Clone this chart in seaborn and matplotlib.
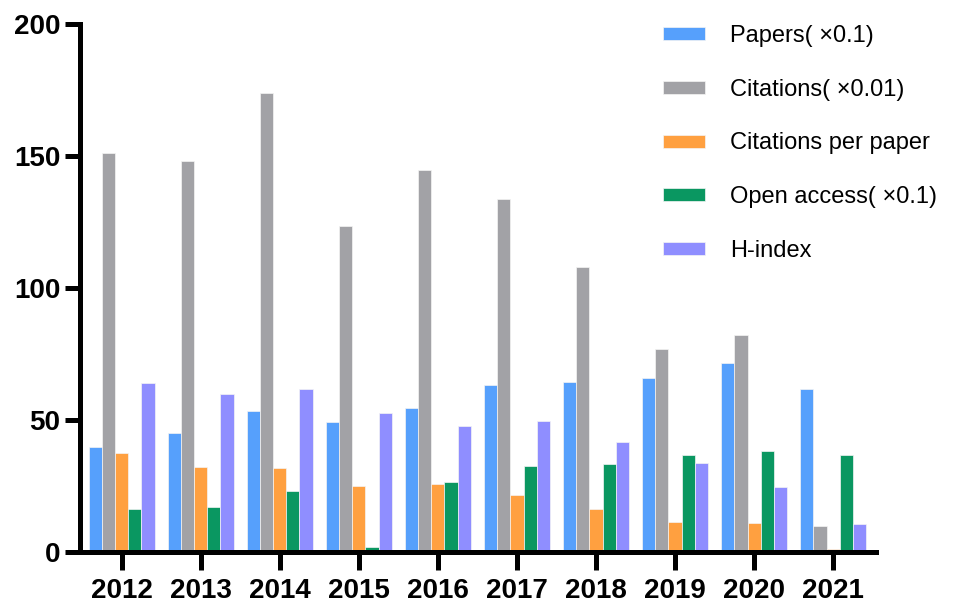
import matplotlib
matplotlib.use("Agg")
import matplotlib.pyplot as plt
import seaborn as sns
import pandas as pd

years = ["2012", "2013", "2014", "2015", "2016", "2017", "2018", "2019", "2020", "2021"]
series = ["Papers( ×0.1)", "Citations( ×0.01)", "Citations per paper",
          "Open access( ×0.1)", "H-index"]
papers = [39.7, 45.0, 53.2, 49.0, 54.5, 63.3, 64.3, 65.8, 71.5, 61.7]
citations = [151.0, 148.0, 173.7, 123.5, 144.8, 133.8, 107.8, 76.7, 82.0, 9.5]
cites_per_paper = [37.4, 32.0, 31.8, 24.8, 25.5, 21.5, 16.0, 11.0, 10.8, 1.0]
open_access = [16.0, 16.7, 23.0, 1.8, 26.5, 32.5, 33.0, 36.6, 38.2, 36.5]
h_index = [63.7, 59.7, 61.7, 52.5, 47.5, 49.5, 41.5, 33.7, 24.6, 10.6]
colors = ["#56A0FC", "#A2A2A6", "#FFA040", "#0A9761", "#8F8EFF"]
yticks = [0, 50, 100, 150, 200]

values = [papers, citations, cites_per_paper, open_access, h_index]
rows = []
for s, vals in zip(series, values):
    for y, v in zip(years, vals):
        rows.append({"Year": y, "Series": s, "Value": v})
df = pd.DataFrame(rows)

sns.set_style("ticks")
plt.rcParams["font.family"] = ["Liberation Sans", "Noto Sans CJK SC", "DejaVu Sans"]
plt.rcParams["text.color"] = "black"
plt.rcParams["xtick.color"] = "black"
plt.rcParams["ytick.color"] = "black"
plt.rcParams["xtick.labelcolor"] = "black"
plt.rcParams["ytick.labelcolor"] = "black"

fig = plt.figure(figsize=(9.67, 6.03), dpi=100)
ax = fig.add_axes([0.0832, 0.0854, 0.8226, 0.875])

sns.barplot(data=df, x="Year", y="Value", hue="Series", order=years,
            hue_order=series, palette=colors, saturation=1, width=0.834, gap=0,
            edgecolor="#F4F4F4", linewidth=0.5, ax=ax, legend=True)

ax.set_ylim(0, 200)
ax.set_xlim(-0.52, 9.54)
ax.set_yticks(yticks)
ax.set_yticklabels([str(t) for t in yticks])
ax.set_xlabel("")
ax.set_ylabel("")
for side in ["top", "right"]:
    ax.spines[side].set_visible(False)
for side in ["left", "bottom"]:
    ax.spines[side].set_linewidth(3.6)
    ax.spines[side].set_color("black")
    ax.spines[side].set_capstyle("projecting")
ax.tick_params(axis="y", length=11, width=3.6, pad=3.5, labelsize=20, color="black", labelcolor="black")
ax.tick_params(axis="x", length=13, width=3.6, pad=6, labelsize=20, color="black", labelcolor="black")
for lab in ax.get_xticklabels() + ax.get_yticklabels():
    lab.set_fontweight("bold")

handles, labels = ax.get_legend_handles_labels()
leg = ax.legend(handles, labels, loc="upper left", bbox_to_anchor=(0.6856, 0.959),
                bbox_transform=fig.transFigure, frameon=False, fontsize=17,
                handlelength=1.78, handleheight=0.47, handletextpad=1.05,
                labelspacing=1.35, borderpad=0, borderaxespad=0)
for t in leg.get_texts():
    t.set_color("black")

fig.savefig("out.png", dpi=100)
